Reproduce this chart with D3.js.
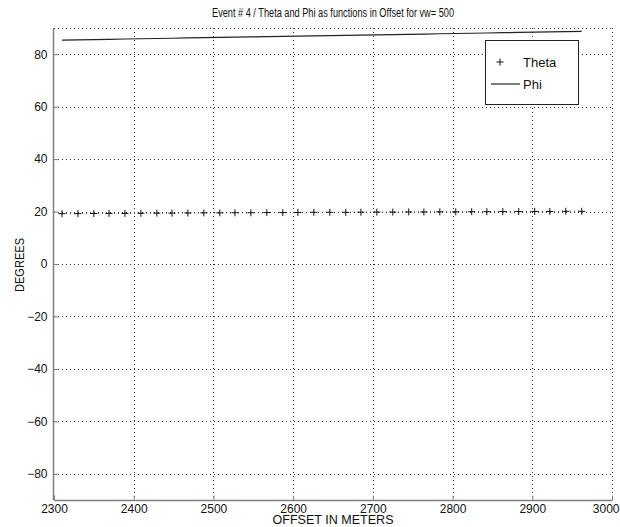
<!DOCTYPE html>
<html>
<head>
<meta charset="utf-8">
<script src="https://cdn.jsdelivr.net/npm/d3@7"></script>
<style>
  html, body { margin: 0; padding: 0; background: #fff; }
  svg { display: block; font-family: "Liberation Sans", Arial, sans-serif; }
  text { fill: #111; }
</style>
</head>
<body>
<svg id="chart" width="620" height="527"></svg>
<script>
// Offsets (m) at which both angles were evaluated
const offsets = [2310, 2330, 2350, 2369, 2389, 2409, 2429, 2448, 2468, 2488,
                 2508, 2527, 2547, 2567, 2587, 2606, 2626, 2646, 2666, 2685,
                 2705, 2725, 2745, 2764, 2784, 2804, 2824, 2843, 2863, 2883,
                 2903, 2922, 2942, 2962];
// Theta (degrees)
const theta = [19.2, 19.2, 19.25, 19.3, 19.3, 19.35, 19.4, 19.4, 19.45, 19.5,
               19.5, 19.55, 19.55, 19.6, 19.6, 19.65, 19.7, 19.7, 19.7, 19.75,
               19.8, 19.8, 19.85, 19.85, 19.9, 19.9, 19.95, 19.95, 20.0, 20.0,
               20.05, 20.05, 20.1, 20.1];
// Phi (degrees)
const phi = [85.4, 85.5, 85.6, 85.7, 85.8, 85.9, 86.0, 86.1, 86.2, 86.3,
             86.4, 86.5, 86.6, 86.7, 86.8, 86.9, 87.0, 87.1, 87.2, 87.3,
             87.4, 87.5, 87.6, 87.7, 87.8, 87.9, 88.0, 88.1, 88.2, 88.3,
             88.4, 88.5, 88.6, 88.7];
const xTicks = [2300, 2400, 2500, 2600, 2700, 2800, 2900, 3000];
const yTicks = [-80, -60, -40, -20, 0, 20, 40, 60, 80];
const seriesNames = ["Theta", "Phi"];

const svg = d3.select("#chart");
const L = 54, R = 612, T = 28, B = 500;

const x = d3.scaleLinear().domain([2300, 3000]).range([L, R]);
const y = d3.scaleLinear().domain([-90, 90]).range([B, T]);

const gridColor = "#333";
const axisColor = "#808080";

// grid
const grid = svg.append("g").attr("stroke", gridColor).attr("stroke-width", 1)
  .attr("stroke-dasharray", "1,3").attr("shape-rendering", "crispEdges");
xTicks.slice(1).forEach(v => {
  grid.append("line").attr("x1", Math.round(x(v)) + 0.5).attr("x2", Math.round(x(v)) + 0.5)
    .attr("y1", T).attr("y2", B);
});
yTicks.forEach(v => {
  grid.append("line").attr("y1", Math.round(y(v)) + 0.5).attr("y2", Math.round(y(v)) + 0.5)
    .attr("x1", L).attr("x2", R);
});
// top border (dotted)
grid.append("line").attr("y1", T + 0.5).attr("y2", T + 0.5).attr("x1", L).attr("x2", R);

// axes
const xAxis = d3.axisBottom(x).tickValues(xTicks).tickSize(-5).tickPadding(4)
  .tickFormat(d3.format("d"));
const yAxis = d3.axisLeft(y).tickValues(yTicks).tickSize(-5).tickPadding(6)
  .tickFormat(d => d < 0 ? "\u2212" + Math.abs(d) : d);

const gx = svg.append("g").attr("transform", `translate(0,${B + 0.5})`).call(xAxis);
const gy = svg.append("g").attr("transform", `translate(${L - 0.5},0)`).call(yAxis);
[gx, gy].forEach(g => {
  g.select(".domain").attr("stroke", axisColor).attr("stroke-width", 1.5);
  g.selectAll(".tick line").attr("stroke", axisColor);
  g.selectAll(".tick text").attr("font-size", 12).attr("fill", "#111")
    .attr("font-family", "'Liberation Sans', Arial, sans-serif");
});
gx.select(".domain").attr("d", `M${L},0H${R}`);
gy.select(".domain").attr("d", `M0,${T}V${B}`);
// keep the last x label inside the page
gx.selectAll(".tick text").filter(d => d === 3000)
  .attr("text-anchor", "end").attr("x", 619 - x(3000));

// Phi: solid line
svg.append("path")
  .datum(offsets.map((o, i) => [o, phi[i]]))
  .attr("fill", "none").attr("stroke", "#222").attr("stroke-width", 1.2)
  .attr("d", d3.line().x(d => x(d[0])).y(d => y(d[1])));

// Theta: dotted line with plus markers
svg.append("path")
  .datum(offsets.map((o, i) => [o, theta[i]]))
  .attr("fill", "none").attr("stroke", "#333").attr("stroke-width", 1)
  .attr("stroke-dasharray", "1,3")
  .attr("d", d3.line().x(d => x(d[0])).y(d => y(d[1])));

const marks = svg.append("g").attr("stroke", "#111").attr("stroke-width", 1);
offsets.forEach((o, i) => {
  const cx = x(o), cy = y(theta[i]);
  marks.append("line").attr("x1", cx - 3.5).attr("x2", cx + 3.5).attr("y1", cy).attr("y2", cy);
  marks.append("line").attr("x1", cx).attr("x2", cx).attr("y1", cy - 3.5).attr("y2", cy + 3.5);
});

// legend
const lg = svg.append("g");
lg.append("rect").attr("x", 485.5).attr("y", 40.5).attr("width", 93).attr("height", 64)
  .attr("fill", "#fff").attr("stroke", "#222").attr("stroke-width", 1);
lg.append("line").attr("x1", 496.5).attr("x2", 503.5).attr("y1", 62).attr("y2", 62).attr("stroke", "#111");
lg.append("line").attr("x1", 500).attr("x2", 500).attr("y1", 58.5).attr("y2", 65.5).attr("stroke", "#111");
lg.append("line").attr("x1", 491).attr("x2", 520).attr("y1", 84).attr("y2", 84).attr("stroke", "#222").attr("stroke-width", 1.2);
lg.append("text").attr("x", 523).attr("y", 67).attr("font-size", 13).text(seriesNames[0]);
lg.append("text").attr("x", 523).attr("y", 89).attr("font-size", 13).text(seriesNames[1]);

// titles
svg.append("text").attr("x", 333).attr("y", 17).attr("text-anchor", "middle")
  .attr("font-size", 12).attr("textLength", 242).attr("lengthAdjust", "spacingAndGlyphs")
  .text("Event # 4 / Theta and Phi as functions in Offset for vw= 500");
svg.append("text").attr("x", 333).attr("y", 524).attr("text-anchor", "middle")
  .attr("font-size", 13).attr("textLength", 121).attr("lengthAdjust", "spacingAndGlyphs")
  .text("OFFSET IN METERS");
svg.append("text").attr("transform", `translate(24,265) rotate(-90)`).attr("text-anchor", "middle")
  .attr("font-size", 13).attr("textLength", 54).attr("lengthAdjust", "spacingAndGlyphs")
  .text("DEGREES");
</script>
</body>
</html>
